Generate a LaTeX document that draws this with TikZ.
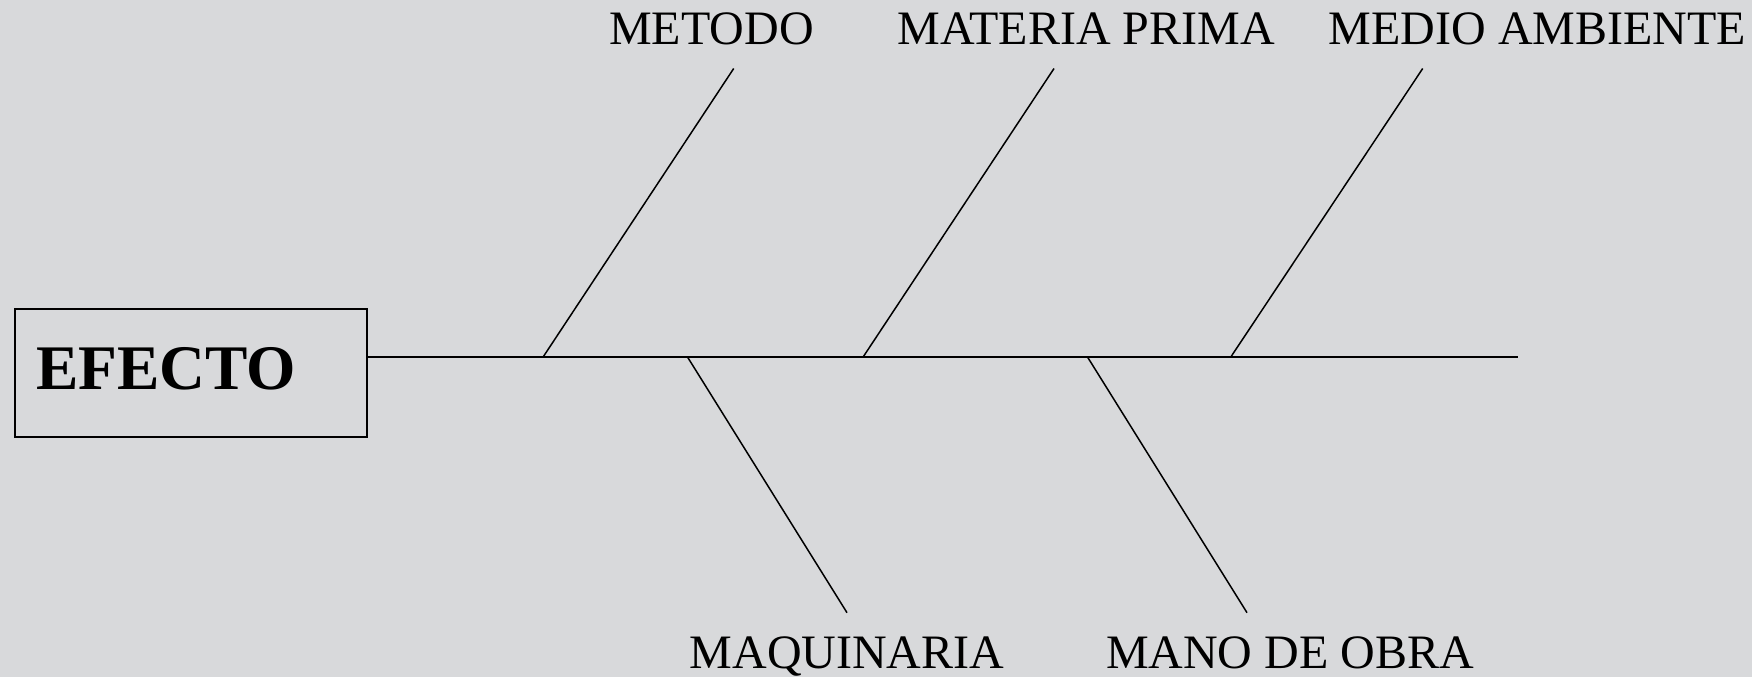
\documentclass[tikz,border=0pt]{standalone}
\usepackage{fontspec}
\setmainfont{Liberation Serif}
\definecolor{bg}{RGB}{216,217,219}
\begin{document}
\begin{tikzpicture}[x=1pt,y=-1pt,
  bone/.style={line width=1.5pt,black},
  lbl/.style={anchor=base,inner sep=0pt,font=\fontsize{48}{48}\selectfont},
  effbox/.style={draw,line width=2pt,minimum width=352pt,minimum height=128pt,inner sep=0pt}]
\fill[bg] (0,0) rectangle (1752,677);
\useasboundingbox (0,0) rectangle (1752,677);
\node[effbox] (box) at (190.7,372.7) {};
\node[anchor=base west,inner sep=0pt,font=\fontsize{63.5}{63.5}\selectfont\bfseries] (eff) at (36,389) {EFECTO};
\coordinate (tail) at (1518,356.7);
\draw[line width=2pt] (box.east |- tail) -- (tail);
% spine points
\coordinate (b1) at (543.3,356.7);
\coordinate (b2) at (863.3,356.7);
\coordinate (b3) at (1231,356.7);
\coordinate (b4) at (687.3,356.7);
\coordinate (b5) at (1087.3,356.7);
% bone ends
\coordinate (t1) at (733.7,68.5);
\coordinate (t2) at (1054,68.5);
\coordinate (t3) at (1422.7,68.5);
\coordinate (t4) at (847,612.7);
\coordinate (t5) at (1247,612.7);
\draw[bone] (b1) -- (t1);
\draw[bone] (b2) -- (t2);
\draw[bone] (b3) -- (t3);
\draw[bone] (b4) -- (t4);
\draw[bone] (b5) -- (t5);
% labels
\node[lbl] (l1) at (711.5,44.3) {METODO};
\node[lbl] (l2) at (1086,44.3) {MATERIA PRIMA};
\node[lbl] (l3) at (1537.5,44.3) {MEDIO AMBIENTE};
\node[lbl] (l4) at (847,668.3) {MAQUINARIA};
\node[lbl] (l5) at (1290,668.3) {MANO DE OBRA};
\end{tikzpicture}
\end{document}
